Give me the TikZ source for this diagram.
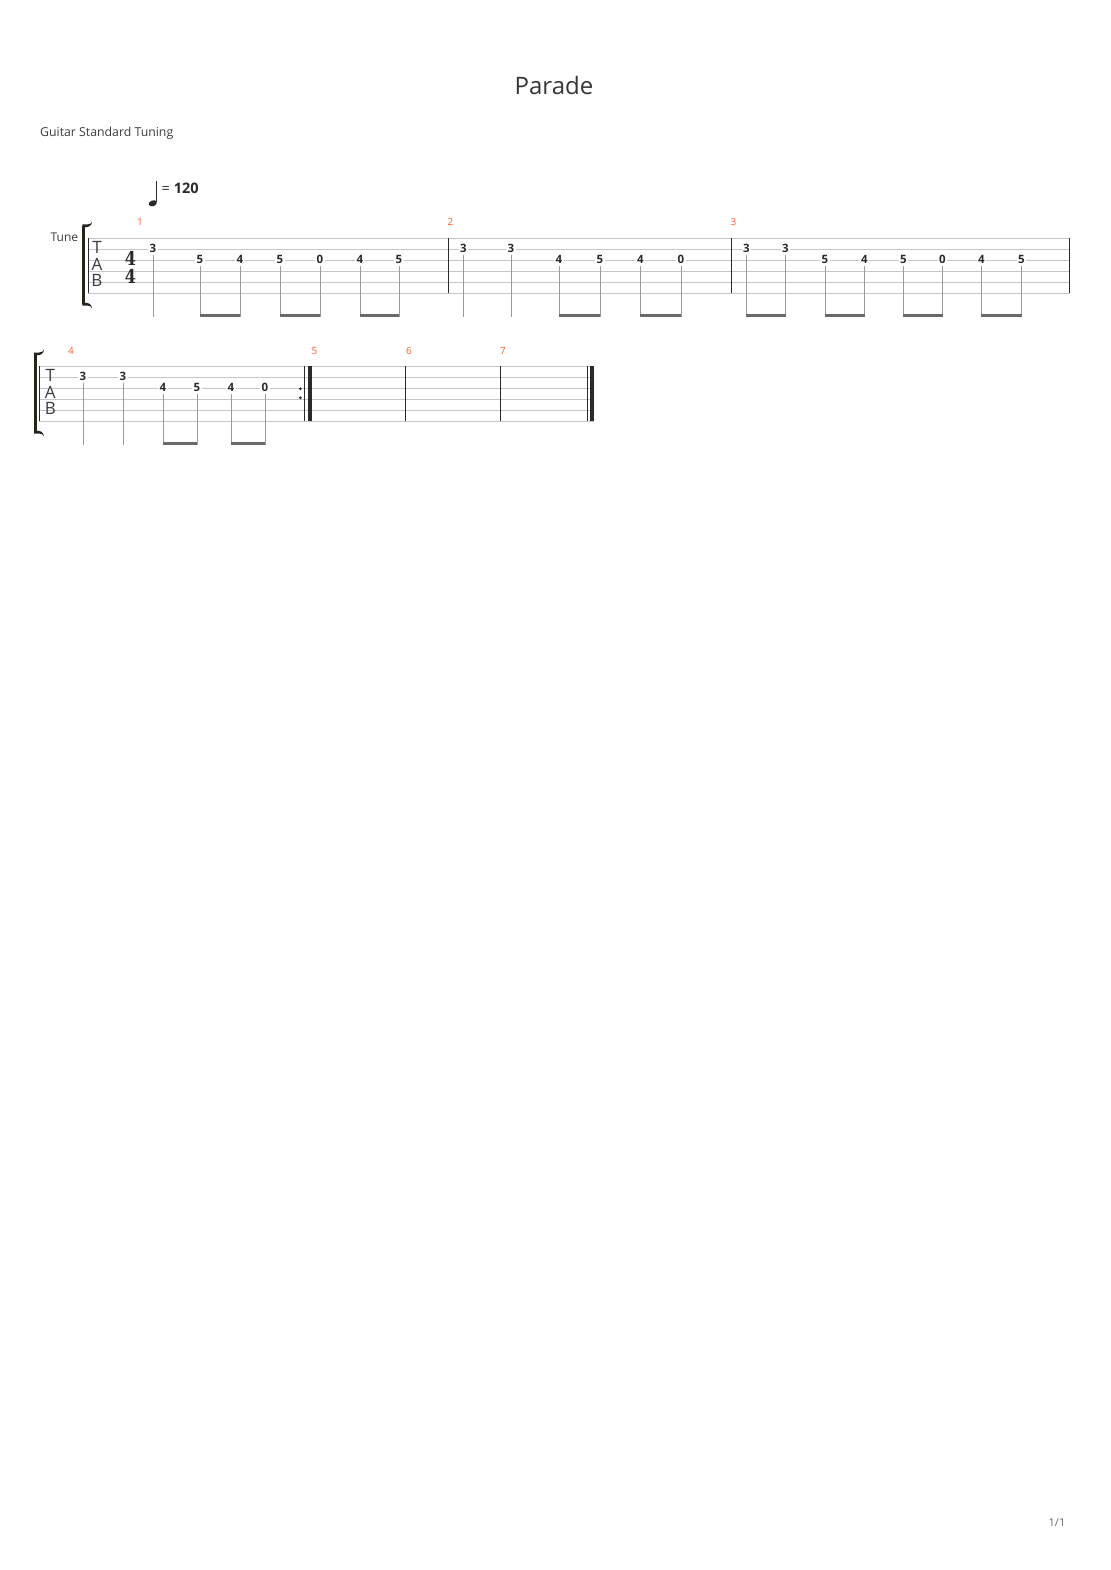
\documentclass[tikz,border=0pt]{standalone}
\usepackage{fontspec}
\newfontfamily\osans{Open Sans}
\newfontfamily\tsig{DejaVu Serif}
\definecolor{staffc}{HTML}{C6C6C6}
\definecolor{barc}{HTML}{2A2A2A}
\definecolor{stemc}{HTML}{9A9A9A}
\definecolor{beamc}{HTML}{6A6A6A}
\definecolor{fretc}{HTML}{2A2A2A}
\definecolor{measc}{HTML}{FF5F2E}
\definecolor{textc}{HTML}{3C3C3C}
\definecolor{brc}{HTML}{24241E}
\newcommand\tabbrkt[3]{%
  \fill[brc] (#1,#2+1.5) rectangle (#1+2.8,#3-1.5);
  \fill[brc] (#1,#2) -- (#1+5,#2) .. controls (#1+7.5,#2) and (#1+8.8,#2-1) .. (#1+9.8,#2-2.8)
     .. controls (#1+9.3,#2+0.8) and (#1+7,#2+2.8) .. (#1+2.8,#2+2.8) -- (#1,#2+2.8) -- cycle;
  \fill[brc] (#1,#3) -- (#1+5,#3) .. controls (#1+7.5,#3) and (#1+8.8,#3+1) .. (#1+9.8,#3+2.8)
     .. controls (#1+9.3,#3-0.8) and (#1+7,#3-2.8) .. (#1+2.8,#3-2.8) -- (#1,#3-2.8) -- cycle;
}
\begin{document}
\begin{tikzpicture}[x=1pt,y=-1pt,
  staffline/.style={draw=staffc,line width=0.9pt},
  barline/.style={draw=barc,line width=1pt},
  stemline/.style={draw=stemc,line width=0.9pt},
  beamline/.style={draw=beamc,line width=2.4pt},
  fretnum/.style={fill=white,inner xsep=1.3pt,inner ysep=0.6pt,anchor=base,
     font=\osans\fontsize{11.5}{11.5}\selectfont\bfseries,text=fretc},
  measnum/.style={anchor=base,inner sep=0pt,font=\osans\fontsize{10}{10}\selectfont,text=measc},
  tabletter/.style={inner sep=0pt,font=\osans\fontsize{17}{17}\selectfont,text=textc},
  timesig/.style={inner sep=0pt,align=center,font=\tsig\bfseries\fontsize{19}{18.6}\selectfont,text=barc},
  plaintext/.style={inner sep=0pt,text=textc},
]
\fill[white] (0,0) rectangle (1110,1570);
\useasboundingbox (0,0) rectangle (1110,1570);

% header
\node[plaintext,anchor=base,font=\osans\fontsize{24}{24}\selectfont,text=textc!90!black] (title) at (554,95) {Parade};
\node[plaintext,anchor=base west,font=\osans\fontsize{12.3}{12.3}\selectfont] (tuning) at (40,136.5) {Guitar Standard Tuning};
\node[plaintext,anchor=base west,font=\osans\fontsize{12}{12}\selectfont] (tune) at (50.5,241) {Tune};

% tempo
\fill[barc, rotate around={20:(152.8,203.3)}] (152.8,203.3) ellipse [x radius=4.2pt, y radius=2.9pt];
\draw[barc,line width=1pt] (156.6,202.5) -- (156.6,181.5);
\node[plaintext,anchor=base west,font=\osans\fontsize{14.5}{14.5}\selectfont,text=barc] (tempo) at (161.5,194) {= \textbf{120}};

% ================= ROW 1 =================
\tabbrkt{82.3}{224.5}{305.5}
\foreach \i in {0,...,5} \draw[staffline] (88.3,238.3+11*\i) -- (1069.5,238.3+11*\i);
\draw[barline] (88.3,238.3) -- (88.3,293.3);
\draw[barline] (448.3,238.3) -- (448.3,293.3);
\draw[barline] (731.3,238.3) -- (731.3,293.3);
\draw[barline,line width=1.3pt] (1069.5,238.3) -- (1069.5,293.3);
\node[tabletter] (t1) at (97,247.5) {T};
\node[tabletter] (a1) at (97,264) {A};
\node[tabletter] (b1) at (97,280.5) {B};
\node[timesig] (ts) at (130.5,267.6) {\scalebox{0.85}[1]{4}\\\scalebox{0.85}[1]{4}};
\node[measnum] (m1) at (140,226) {1};
\node[measnum] (m2) at (450.5,226) {2};
\node[measnum] (m3) at (733.5,226) {3};

\foreach \x/\s/\f [count=\k] in {153/2/3, 200/3/5, 240/3/4, 280/3/5, 320/3/0, 360/3/4, 399/3/5,
   463.5/2/3, 511/2/3, 559/3/4, 600/3/5, 640.5/3/4, 681/3/0,
   746.5/2/3, 785.5/2/3, 825/3/5, 864.5/3/4, 903.5/3/5, 942.5/3/0, 981.5/3/4, 1021.5/3/5}{
  \pgfmathsetmacro\ly{238.3+11*(\s-1)}
  \draw[stemline] (\x,\ly+6) -- (\x,316.8);
  \node[fretnum] (r1n\k) at (\x,\ly+3.4) {\f};
}
\foreach \xa/\xb in {200/240, 280/320, 360/399, 559/600, 640.5/681, 746.5/785.5, 825/864.5, 903.5/942.5, 981.5/1021.5}
  \draw[beamline] (\xa-0.45,315.6) -- (\xb+0.45,315.6);

% ================= ROW 2 =================
\tabbrkt{34.2}{352.5}{433.5}
\foreach \i in {0,...,5} \draw[staffline] (39,366.3+11*\i) -- (593.5,366.3+11*\i);
\draw[barline] (39,366.3) -- (39,421.3);
\draw[barline] (304.3,366.3) -- (304.3,421.3);
\fill[barc] (308,366.3) rectangle (311.8,421.3);
\fill[barc] (300.3,388.7) circle (1.5pt);
\fill[barc] (300.3,397.7) circle (1.5pt);
\draw[barline] (405.7,366.3) -- (405.7,421.3);
\draw[barline] (500.4,366.3) -- (500.4,421.3);
\draw[barline] (587,366.3) -- (587,421.3);
\fill[barc] (589.8,366.3) rectangle (593.6,421.3);
\node[tabletter] (t2) at (50.3,375.5) {T};
\node[tabletter] (a2) at (50.3,392) {A};
\node[tabletter] (b2) at (50.3,408.5) {B};
\node[measnum] (m4) at (71,354) {4};
\node[measnum] (m5) at (314.5,354) {5};
\node[measnum] (m6) at (409,354) {6};
\node[measnum] (m7) at (503,354) {7};

\foreach \x/\s/\f [count=\k] in {83/2/3, 123/2/3, 163/3/4, 197/3/5, 231/3/4, 265/3/0}{
  \pgfmathsetmacro\ly{366.3+11*(\s-1)}
  \draw[stemline] (\x,\ly+6) -- (\x,444.8);
  \node[fretnum] (r2n\k) at (\x,\ly+3.4) {\f};
}
\foreach \xa/\xb in {163/197, 231/265}
  \draw[beamline] (\xa-0.45,443.6) -- (\xb+0.45,443.6);

% page number
\node[plaintext,anchor=base,font=\osans\fontsize{11}{11}\selectfont,text=black!60] (page) at (1057,1526) {1/1};
\end{tikzpicture}
\end{document}
